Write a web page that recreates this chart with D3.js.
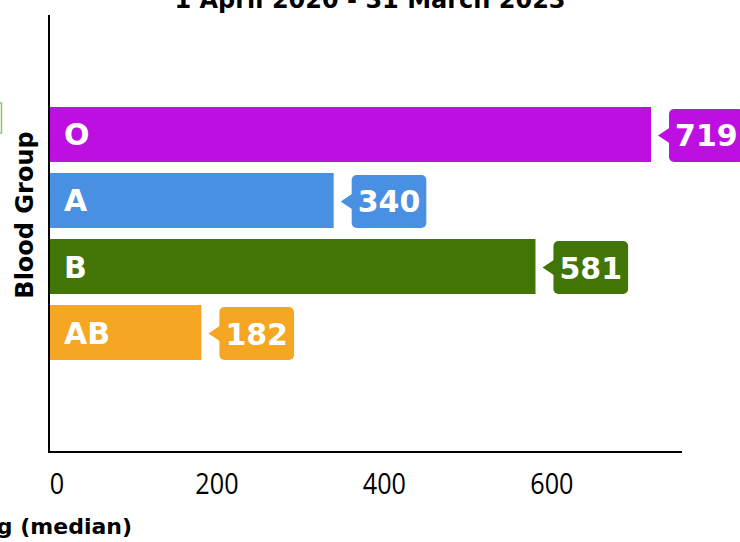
<!DOCTYPE html>
<html>
<head>
<meta charset="utf-8">
<script src="https://cdn.jsdelivr.net/npm/d3@7"></script>
<style>
  body { margin: 0; background: #fff; }
  text { font-family: "DejaVu Sans", sans-serif; font-weight: 700; }
</style>
</head>
<body>
<script>
var groups = ['O', 'A', 'B', 'AB'];
var medianDays = [719, 340, 581, 182];
var groupColors = ['#bd10e0', '#4a90e2', '#417505', '#f5a623'];
var xTicks = [0, 200, 400, 600];

var width = 740,
    height = 542,
    left = 49,
    axisBottom = 452;

var data = groups.map(function (g, i) {
    return { group: g, value: medianDays[i], color: groupColors[i] };
});

var svg = d3.select('body').append('svg')
    .attr('width', width)
    .attr('height', height);

var x = d3.scaleLinear()
    .domain([0, 756])
    .range([left, 682]);

var y = d3.scaleBand()
    .domain(groups)
    .range([101.5, 365.5])
    .paddingInner(0.167)
    .paddingOuter(0.083);

// title (top cut off in the original)
svg.append('text')
    .attr('x', 370)
    .attr('y', 8)
    .attr('text-anchor', 'middle')
    .style('font-size', '24px')
    .text('1 April 2020 - 31 March 2023');

// left-edge leftover of a box
svg.append('rect')
    .attr('x', -10).attr('y', 103)
    .attr('width', 11.5).attr('height', 30)
    .attr('fill', 'none')
    .attr('stroke', '#8fc46a')
    .attr('stroke-width', 1.5);

// bars
svg.selectAll('.bar')
    .data(data)
    .enter()
    .append('rect')
    .attr('class', 'bar')
    .attr('x', x(0))
    .attr('y', function (d) { return y(d.group); })
    .attr('width', function (d) { return x(d.value) - x(0); })
    .attr('height', y.bandwidth())
    .attr('fill', function (d) { return d.color; });

// group names inside bars
svg.selectAll('.gname')
    .data(data)
    .enter()
    .append('text')
    .attr('x', 64)
    .attr('y', function (d) { return y(d.group) + y.bandwidth() / 2 + 11; })
    .attr('fill', '#fff')
    .style('font-size', '30px')
    .text(function (d) { return d.group; });

// value callouts
var callout = svg.selectAll('.callout')
    .data(data)
    .enter()
    .append('g')
    .attr('class', 'callout');

callout.each(function (d) {
    var g = d3.select(this);
    var cy = y(d.group) + y.bandwidth() / 2 + 1;
    var tip = x(d.value) + 7;
    var boxL = tip + 11;
    var t = g.append('text')
        .attr('x', boxL + 6)
        .attr('y', cy + 11)
        .attr('fill', '#fff')
        .style('font-size', '30px')
        .text(d.value);
    var tw = t.node().getComputedTextLength();
    var bw = tw + 12, bh = 53;
    g.insert('rect', 'text')
        .attr('x', boxL)
        .attr('y', cy - bh / 2)
        .attr('width', bw)
        .attr('height', bh)
        .attr('rx', 5)
        .attr('fill', d.color);
    g.insert('path', 'text')
        .attr('d', 'M' + (boxL + 1) + ',' + (cy - 8) + 'L' + tip + ',' + cy + 'L' + (boxL + 1) + ',' + (cy + 8) + 'Z')
        .attr('fill', d.color);
});

// axes
var xAxis = d3.axisBottom(x)
    .tickValues(xTicks)
    .tickSize(0)
    .tickPadding(21);

var gx = svg.append('g')
    .attr('transform', 'translate(0,' + axisBottom + ')')
    .call(xAxis);
gx.select('.domain').attr('stroke', '#000').attr('stroke-width', 2)
    .attr('d', 'M' + left + ',0H682');
gx.selectAll('.tick text')
    .attr('fill', '#000')
    .attr('transform', 'scale(0.84,1)')
    .style('font-family', '"Open Sans", sans-serif')
    .style('font-weight', 400)
    .style('font-size', '30px')
    .attr('dx', function (d) { return d === 0 ? 9 : 0; });

svg.append('line')
    .attr('x1', left).attr('x2', left)
    .attr('y1', 15).attr('y2', axisBottom + 1)
    .attr('stroke', '#000')
    .attr('stroke-width', 2);

// axis titles
svg.append('text')
    .attr('transform', 'translate(33,215) rotate(-90)')
    .attr('text-anchor', 'middle')
    .style('font-size', '24px')
    .text('Blood Group');

svg.append('text')
    .attr('x', 132)
    .attr('y', 534)
    .attr('text-anchor', 'end')
    .style('font-size', '22px')
    .text('Days waiting (median)');
</script>
</body>
</html>
